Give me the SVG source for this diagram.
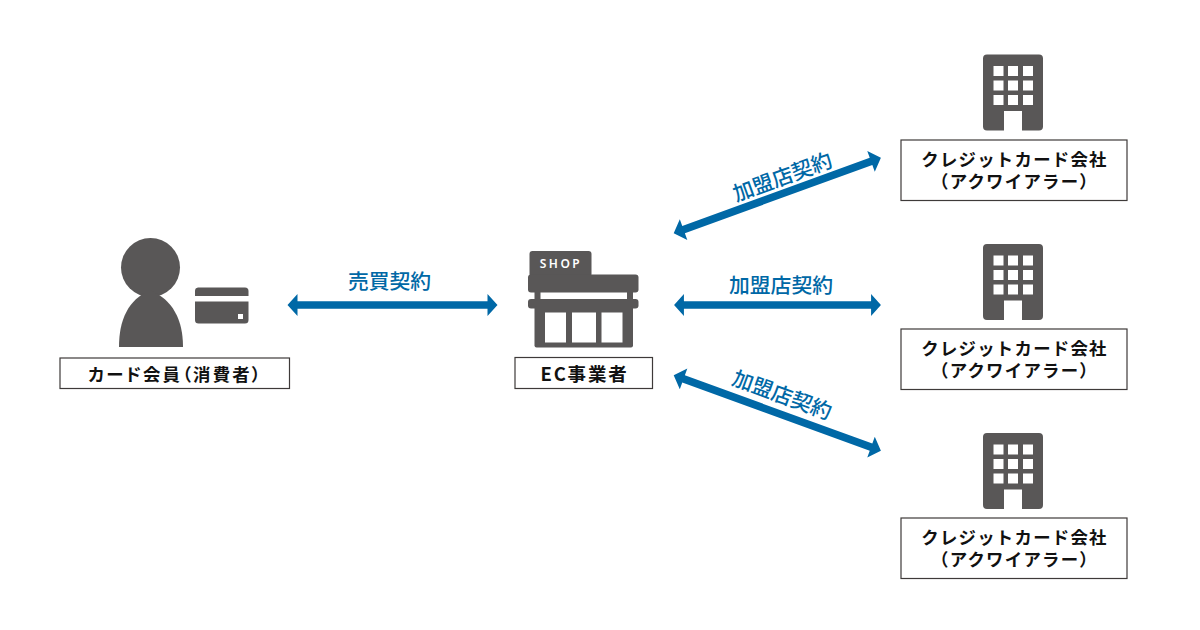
<svg xmlns="http://www.w3.org/2000/svg" width="1200" height="630" viewBox="0 0 1200 630">
<style>
.icon{fill:#595757}
.hole{fill:#fff}
.box{fill:#fff;stroke:#3e3a39;stroke-width:1.2}
.lbl{font-family:"Noto Sans CJK JP","Noto Sans CJK SC",sans-serif;font-weight:700;font-size:17.4px;fill:#111;text-anchor:middle;letter-spacing:1.25px}
.con{font-family:"Noto Sans CJK JP","Noto Sans CJK SC",sans-serif;font-weight:500;font-size:20.800px;fill:#0068a6;text-anchor:middle}
.arr{fill:#0068a6}
</style>
<defs>
<g id="bld">
<path class="icon" d="M987 54.500H1039a4 4 0 0 1 4 4V126.500a4 4 0 0 1-4 4H1022V111H1004V130.500H987a4 4 0 0 1-4-4V58.500a4 4 0 0 1 4-4z"/>
<g class="hole">
<rect x="993.500" y="66" width="10" height="10"/><rect x="1008" y="66" width="10" height="10"/><rect x="1023" y="66" width="10" height="10"/>
<rect x="993.500" y="80.500" width="10" height="10"/><rect x="1008" y="80.500" width="10" height="10"/><rect x="1023" y="80.500" width="10" height="10"/>
<rect x="993.500" y="95" width="10" height="10"/><rect x="1008" y="95" width="10" height="10"/><rect x="1023" y="95" width="10" height="10"/>
</g>
</g>
<path id="dbl" class="arr" d="M-105 0L-95 -11V-3.800H95V-11L105 0L95 11V3.800H-95V11Z"/>
</defs>

<g id="connectors">
<g id="c-sales"><use href="#dbl" transform="translate(392.500 305)"/></g>
<g id="c-a1"><use href="#dbl" transform="translate(777.300 195.500) rotate(-20) scale(1.05 1)"/></g>
<g id="c-a2"><use href="#dbl" transform="translate(777.500 305) scale(0.985 1)"/></g>
<g id="c-a3"><use href="#dbl" transform="translate(777.300 413) rotate(20) scale(1.05 1)"/></g>
<text class="con" x="389.500" y="289">売買契約</text>
<text class="con" transform="translate(785 184) rotate(-20)" x="0" y="0">加盟店契約</text>
<text class="con" x="781" y="293">加盟店契約</text>
<text class="con" transform="translate(779.500 402) rotate(20)" x="0" y="0">加盟店契約</text>
</g>

<g id="member">
<circle class="icon" cx="150.500" cy="267.500" r="29.500"/>
<path class="icon" d="M119 347C119 320 128 300 150 290C173 300 183 320 183 347Z"/>
<path class="icon" d="M198 287.500H245a3.500 3.500 0 0 1 3.500 3.500V296H195V291a3.500 3.500 0 0 1 3-3.500z"/>
<path class="icon" d="M195 301.500H248.500V320a3.500 3.500 0 0 1-3.500 3.500H198.500a3.500 3.500 0 0 1-3.500-3.500z"/>
<rect class="hole" x="238" y="314" width="5" height="5"/>
<rect class="box" x="60" y="358" width="229.500" height="30.500"/>
<text class="lbl" x="175.500" y="380.500" style="font-feature-settings:'palt';letter-spacing:2.2px">カード会員（消費者）</text>
</g>

<g id="shop">
<rect class="icon" x="529.500" y="251" width="62" height="26" rx="3"/>
<rect class="icon" x="528" y="274.500" width="110.500" height="18" rx="3"/>
<rect class="icon" x="534.500" y="290" width="6" height="12"/>
<rect class="icon" x="627" y="290" width="6" height="12"/>
<rect class="icon" x="528" y="299" width="110.500" height="9.500" rx="3"/>
<rect class="icon" x="534.500" y="306" width="98.500" height="41.500" rx="2"/>
<rect class="hole" x="545" y="312.500" width="21" height="30"/>
<rect class="hole" x="572" y="312.500" width="24" height="30"/>
<rect class="hole" x="601.500" y="312.500" width="21" height="30"/>
<text x="561" y="267.500" font-family="'Noto Sans','Liberation Sans',sans-serif" font-weight="600" font-size="12px" fill="#fff" text-anchor="middle" letter-spacing="2.500px">SHOP</text>
<rect class="box" x="515" y="357.500" width="137.500" height="31"/>
<text class="lbl" x="584.500" y="380.500" style="font-size:18.500px;letter-spacing:1.8px">EC事業者</text>
</g>

<g id="acq1">
<use href="#bld"/>
<rect class="box" x="901" y="140" width="226" height="60.500"/>
<text class="lbl" x="1014.500" y="165.500">クレジットカード会社</text>
<text class="lbl" x="1014.500" y="188">（アクワイアラー）</text>
</g>
<g id="acq2">
<use href="#bld" y="189.500"/>
<rect class="box" x="901" y="329" width="226" height="60.500"/>
<text class="lbl" x="1014.500" y="354.500">クレジットカード会社</text>
<text class="lbl" x="1014.500" y="377">（アクワイアラー）</text>
</g>
<g id="acq3">
<use href="#bld" y="378.500"/>
<rect class="box" x="901" y="518" width="226" height="60.500"/>
<text class="lbl" x="1014.500" y="543.500">クレジットカード会社</text>
<text class="lbl" x="1014.500" y="566">（アクワイアラー）</text>
</g>
</svg>
